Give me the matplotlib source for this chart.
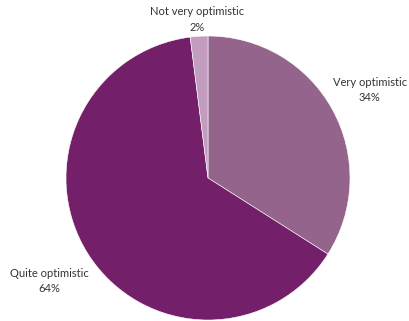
import matplotlib.pyplot as plt

labels = ['Very optimistic', 'Quite optimistic', 'Not very optimistic']
shares = [34, 64, 2]
colors = ['#94648c', '#741f69', '#c39dc0']
# label anchor points, in units of the pie radius
label_pos = [(1.14, 0.62), (-1.12, -0.725), (-0.075, 1.115)]

plt.rcParams['font.family'] = ['Lato', 'DejaVu Sans']

fig = plt.figure(figsize=(4.10, 3.21), dpi=100)
ax = fig.add_axes([66 / 410, 1 / 321, 284 / 410, 284 / 321])
ax.pie(shares, colors=colors, startangle=90, counterclock=False,
       wedgeprops=dict(edgecolor='white', linewidth=0.4))
ax.set_xlim(-1, 1)
ax.set_ylim(-1, 1)
ax.set_aspect('equal')
ax.axis('off')

for name, val, (x, y) in zip(labels, shares, label_pos):
    ax.text(x, y, f'{name}\n{val}%', ha='center', va='center', fontsize=8,
            color='#333333', linespacing=1.5, clip_on=False)

fig.savefig('out.png', dpi=100)
